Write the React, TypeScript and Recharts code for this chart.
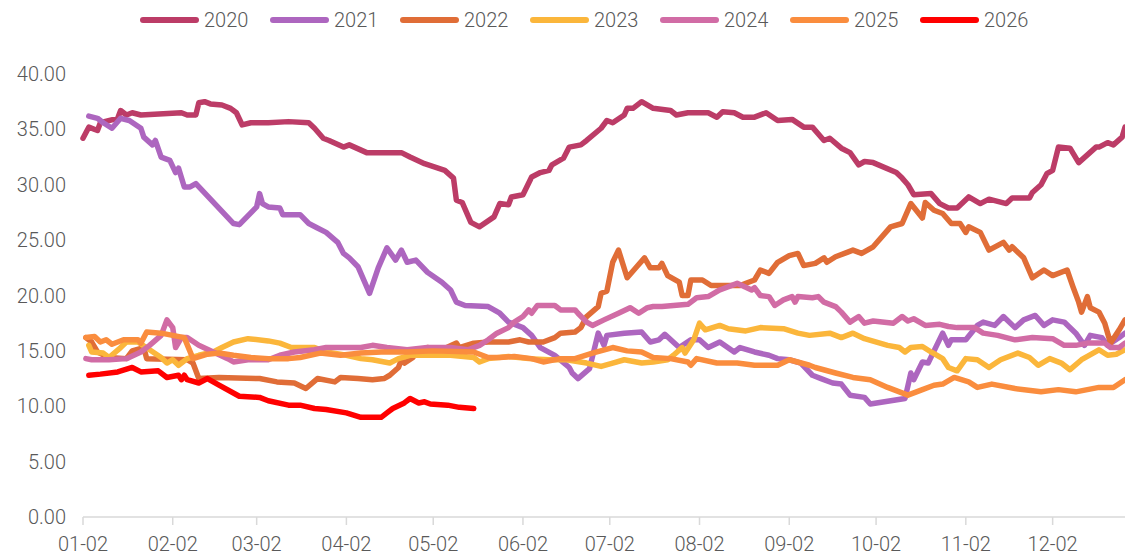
import { LineChart, Line, XAxis, YAxis } from 'recharts';

// x values are days counted from Jan 2 (leap-year calendar, as the axis labels imply)
const tickDays = [0, 31, 60, 91, 121, 152, 182, 213, 244, 274, 305, 335];
const tickLabels = ['01-02', '02-02', '03-02', '04-02', '05-02', '06-02', '07-02', '08-02', '09-02', '10-02', '11-02', '12-02'];
const yTicks = [0, 5, 10, 15, 20, 25, 30, 35, 40];

const days2020 = [0, 2, 5, 6, 12, 13, 15, 17, 20, 34, 36, 39, 40, 42, 44, 48, 51, 53, 55, 58, 64, 71, 78, 80, 83, 85, 90, 92, 98, 110, 113, 118, 125, 128, 129, 131, 134, 137, 142, 144, 147, 148, 152, 155, 158, 161, 162, 166, 168, 172, 174, 179, 181, 183, 187, 188, 190, 193, 197, 203, 205, 209, 216, 219, 221, 225, 228, 232, 236, 240, 245, 249, 252, 256, 258, 262, 265, 268, 270, 273, 281, 283, 285, 287, 293, 296, 299, 302, 306, 310, 313, 319, 321, 327, 328, 331, 333, 335, 337, 341, 344, 350, 351, 354, 356, 359, 360];
const vals2020 = [34.2, 35.2, 34.9, 35.6, 36.0, 36.7, 36.3, 36.5, 36.3, 36.5, 36.3, 36.3, 37.4, 37.5, 37.3, 37.2, 36.9, 36.5, 35.4, 35.6, 35.6, 35.7, 35.6, 35.1, 34.2, 34.0, 33.4, 33.6, 32.9, 32.9, 32.5, 31.9, 31.3, 30.6, 28.6, 28.4, 26.6, 26.2, 27.1, 28.3, 28.2, 28.9, 29.1, 30.7, 31.1, 31.3, 31.8, 32.4, 33.4, 33.6, 34.0, 35.1, 35.8, 35.6, 36.3, 36.9, 36.9, 37.5, 36.9, 36.7, 36.3, 36.5, 36.5, 36.1, 36.6, 36.5, 36.1, 36.1, 36.5, 35.8, 35.9, 35.2, 35.2, 34.0, 34.2, 33.3, 32.9, 31.8, 32.1, 32.0, 31.1, 30.6, 30.0, 29.1, 29.2, 28.3, 27.9, 27.9, 28.9, 28.3, 28.7, 28.3, 28.8, 28.8, 29.3, 30.0, 31.0, 31.3, 33.4, 33.3, 32.0, 33.4, 33.4, 33.8, 33.6, 34.3, 35.2];

const days2021 = [2, 5, 7, 10, 13, 16, 20, 21, 24, 25, 27, 30, 32, 33, 35, 37, 39, 52, 54, 60, 61, 62, 64, 68, 69, 75, 78, 81, 84, 88, 90, 92, 95, 99, 102, 105, 108, 110, 112, 115, 119, 124, 127, 129, 132, 140, 144, 147, 152, 155, 158, 163, 168, 169, 171, 175, 178, 180, 181, 187, 193, 196, 199, 201, 206, 210, 213, 216, 220, 225, 227, 232, 237, 240, 244, 248, 252, 255, 259, 262, 265, 270, 272, 284, 286, 287, 290, 292, 297, 299, 300, 305, 309, 311, 315, 318, 322, 325, 329, 332, 335, 339, 343, 346, 348, 352, 354, 358, 360];
const vals2021 = [36.2, 36.0, 35.6, 35.1, 36.0, 35.8, 35.1, 34.3, 33.6, 34.0, 32.5, 32.2, 31.1, 31.5, 29.8, 29.8, 30.1, 26.5, 26.4, 28.0, 29.2, 28.3, 28.0, 27.9, 27.3, 27.3, 26.5, 26.1, 25.7, 24.8, 23.8, 23.4, 22.6, 20.2, 22.5, 24.3, 23.2, 24.1, 23.0, 23.2, 22.1, 21.2, 20.5, 19.4, 19.1, 19.0, 18.4, 17.6, 17.1, 16.4, 15.3, 14.6, 13.5, 13.0, 12.5, 13.4, 16.6, 15.5, 16.4, 16.6, 16.7, 15.8, 16.0, 16.5, 15.3, 16.0, 16.0, 15.3, 15.8, 14.9, 15.3, 14.9, 14.6, 14.3, 14.2, 13.9, 12.8, 12.5, 12.1, 12.0, 11.0, 10.8, 10.2, 10.7, 13.0, 12.4, 14.0, 13.9, 16.6, 15.5, 16.0, 16.0, 17.3, 17.6, 17.3, 18.1, 17.1, 17.8, 18.2, 17.3, 17.8, 17.6, 16.6, 15.5, 16.4, 16.2, 15.5, 16.2, 16.6];

const days2022 = [1, 3, 5, 9, 15, 17, 21, 22, 36, 38, 40, 47, 61, 67, 73, 77, 81, 87, 89, 95, 100, 104, 106, 109, 110, 111, 114, 115, 119, 124, 129, 130, 135, 140, 147, 151, 154, 159, 163, 165, 170, 172, 174, 178, 179, 181, 183, 185, 188, 191, 194, 196, 199, 200, 202, 206, 207, 209, 210, 214, 217, 227, 232, 234, 237, 240, 244, 247, 249, 253, 256, 257, 260, 264, 266, 269, 273, 279, 283, 286, 290, 291, 294, 297, 300, 303, 305, 306, 310, 313, 318, 320, 321, 325, 328, 332, 335, 340, 342, 344, 345, 347, 348, 351, 353, 355, 358, 360];
const vals2022 = [16.2, 15.8, 14.9, 14.4, 14.3, 15.0, 15.3, 14.3, 14.2, 13.9, 12.5, 12.6, 12.5, 12.2, 12.1, 11.6, 12.5, 12.2, 12.6, 12.5, 12.4, 12.5, 12.8, 13.5, 14.2, 13.9, 14.4, 14.9, 15.3, 15.1, 15.7, 15.3, 15.7, 15.8, 15.8, 16.0, 15.8, 15.8, 16.2, 16.6, 16.7, 17.1, 18.1, 19.0, 20.2, 20.4, 23.0, 24.1, 21.6, 22.5, 23.4, 22.5, 22.5, 22.9, 21.8, 21.2, 20.0, 20.0, 21.4, 21.4, 20.9, 20.9, 21.4, 22.3, 22.0, 23.0, 23.6, 23.8, 22.7, 22.9, 23.4, 23.0, 23.5, 23.9, 24.1, 23.8, 24.4, 26.2, 26.5, 28.3, 27.0, 28.4, 27.7, 27.4, 26.5, 26.5, 25.7, 26.2, 25.7, 24.1, 24.8, 24.1, 24.4, 23.4, 21.6, 22.3, 21.8, 22.3, 20.8, 19.4, 18.5, 19.9, 18.9, 18.5, 17.5, 15.7, 16.9, 17.8];

const days2023 = [2, 3, 7, 9, 13, 15, 19, 23, 27, 29, 31, 33, 36, 40, 45, 48, 52, 57, 64, 68, 72, 75, 80, 84, 91, 96, 100, 106, 109, 113, 127, 135, 137, 140, 147, 154, 161, 167, 174, 179, 183, 187, 193, 197, 202, 204, 207, 208, 211, 213, 215, 220, 223, 229, 234, 242, 247, 251, 258, 262, 266, 270, 278, 282, 284, 286, 290, 293, 297, 299, 302, 305, 309, 313, 317, 323, 327, 330, 334, 338, 341, 345, 347, 351, 354, 357, 360];
const vals2023 = [15.5, 14.9, 14.8, 14.4, 15.3, 15.8, 15.8, 15.1, 14.4, 13.9, 14.2, 13.7, 14.3, 14.6, 14.9, 15.3, 15.8, 16.1, 15.9, 15.7, 15.3, 15.3, 15.3, 14.9, 14.6, 14.3, 14.2, 13.9, 14.3, 14.6, 14.6, 14.4, 14.0, 14.3, 14.5, 14.3, 14.2, 14.2, 13.9, 13.6, 13.9, 14.2, 13.9, 14.0, 14.2, 14.6, 15.3, 14.8, 16.0, 17.5, 16.9, 17.3, 17.0, 16.8, 17.1, 17.0, 16.6, 16.4, 16.6, 16.2, 16.6, 16.1, 15.5, 15.3, 14.9, 15.3, 15.4, 14.9, 14.3, 13.5, 13.2, 14.3, 14.2, 13.5, 14.2, 14.8, 14.4, 13.7, 14.3, 13.9, 13.3, 14.2, 14.5, 15.1, 14.6, 14.7, 15.1];

const days2024 = [1, 3, 9, 15, 20, 23, 27, 29, 31, 32, 34, 36, 40, 45, 50, 52, 57, 64, 68, 73, 80, 84, 91, 96, 100, 105, 112, 119, 127, 133, 137, 140, 143, 147, 149, 152, 154, 155, 157, 163, 165, 170, 171, 174, 176, 180, 185, 189, 192, 195, 197, 200, 204, 209, 212, 216, 220, 226, 231, 232, 234, 237, 239, 242, 245, 246, 247, 252, 254, 256, 260, 262, 265, 268, 270, 273, 280, 283, 285, 287, 291, 296, 299, 302, 308, 311, 316, 322, 328, 335, 339, 343, 347, 353, 355, 358, 360];
const vals2024 = [14.3, 14.2, 14.2, 14.3, 14.9, 15.5, 16.4, 17.8, 17.1, 15.3, 16.2, 16.2, 15.5, 14.9, 14.3, 14.0, 14.2, 14.2, 14.6, 14.9, 15.1, 15.3, 15.3, 15.3, 15.5, 15.3, 15.1, 15.3, 15.3, 15.1, 15.5, 16.0, 16.6, 17.1, 17.6, 18.1, 18.7, 18.4, 19.1, 19.1, 18.7, 18.7, 18.4, 17.6, 17.3, 17.8, 18.4, 18.9, 18.4, 18.9, 19.0, 19.0, 19.1, 19.2, 19.8, 19.9, 20.5, 21.1, 20.5, 20.7, 20.0, 19.9, 19.1, 19.6, 19.9, 19.4, 19.9, 19.8, 19.9, 19.4, 19.0, 18.5, 17.6, 18.1, 17.5, 17.7, 17.5, 18.1, 17.7, 17.9, 17.3, 17.4, 17.2, 17.1, 17.1, 16.6, 16.4, 16.0, 16.2, 16.1, 15.5, 15.5, 15.7, 15.7, 15.3, 15.3, 15.7];

const days2025 = [1, 4, 6, 8, 10, 14, 19, 20, 22, 27, 35, 38, 43, 47, 52, 58, 64, 71, 75, 82, 89, 96, 103, 112, 121, 135, 140, 144, 149, 155, 159, 165, 170, 176, 183, 188, 193, 197, 203, 209, 210, 212, 219, 226, 232, 240, 244, 251, 253, 260, 266, 272, 278, 285, 290, 294, 297, 301, 306, 309, 314, 322, 331, 337, 343, 351, 356, 360];
const vals2025 = [16.2, 16.3, 15.8, 16.0, 15.6, 16.0, 16.0, 15.7, 16.7, 16.6, 16.2, 14.3, 14.7, 14.8, 14.6, 14.4, 14.3, 14.3, 14.4, 14.8, 14.6, 14.8, 14.9, 14.9, 15.0, 14.9, 14.4, 14.4, 14.5, 14.3, 14.0, 14.3, 14.3, 14.8, 15.3, 15.0, 14.9, 14.4, 14.3, 14.0, 13.7, 14.3, 13.9, 13.9, 13.7, 13.7, 14.2, 13.7, 13.5, 13.0, 12.6, 12.4, 11.7, 11.0, 11.5, 11.9, 12.0, 12.6, 12.2, 11.7, 12.0, 11.6, 11.3, 11.5, 11.3, 11.7, 11.7, 12.4];

const days2026 = [2, 6, 12, 17, 20, 26, 29, 33, 34, 35, 36, 40, 43, 47, 54, 61, 64, 71, 75, 80, 84, 91, 96, 103, 105, 107, 111, 113, 116, 118, 120, 126, 130, 135];
const vals2026 = [12.8, 12.9, 13.1, 13.5, 13.1, 13.2, 12.6, 12.8, 12.4, 12.8, 12.4, 12.1, 12.5, 11.9, 10.9, 10.8, 10.5, 10.1, 10.1, 9.8, 9.7, 9.4, 9.0, 9.0, 9.4, 9.8, 10.3, 10.7, 10.3, 10.4, 10.2, 10.1, 9.9, 9.8];

const series = [
  { name: '2020', color: '#BC3C67', days: days2020, vals: vals2020 },
  { name: '2021', color: '#AD66BF', days: days2021, vals: vals2021 },
  { name: '2022', color: '#E06D37', days: days2022, vals: vals2022 },
  { name: '2023', color: '#FBB63B', days: days2023, vals: vals2023 },
  { name: '2024', color: '#D16CA5', days: days2024, vals: vals2024 },
  { name: '2025', color: '#FA8D3E', days: days2025, vals: vals2025 },
  { name: '2026', color: '#FF0000', days: days2026, vals: vals2026 },
];

const FONT = 'Roboto, "Noto Sans", sans-serif';
const TEXT = '#595959';
const AXIS = '#D9D9D9';

function TopLegend() {
  return (
    <div
      style={{
        position: 'absolute',
        top: 0,
        left: 140,
        height: 40,
        display: 'flex',
        alignItems: 'center',
        fontFamily: FONT,
        fontWeight: 300,
        fontSize: 20,
        color: TEXT,
      }}
    >
      {series.map((s) => (
        <div key={s.name} style={{ width: 130, display: 'flex', alignItems: 'center' }}>
          <span
            style={{
              display: 'inline-block',
              width: 59,
              height: 6,
              borderRadius: 3,
              background: s.color,
              marginRight: 5,
            }}
          />
          <span>{s.name}</span>
        </div>
      ))}
    </div>
  );
}

export default function App() {
  const lines = series.map((s) => ({
    ...s,
    data: s.days.map((day, i) => ({ day, value: s.vals[i] })),
  }));

  return (
    <div style={{ position: 'relative', width: 1125, height: 557, background: '#fff' }}>
      <style>{'body{margin:0}'}</style>
      <LineChart width={1125} height={557} margin={{ top: 74, right: 0, bottom: 0, left: 13 }}>
        <XAxis
          type="number"
          dataKey="day"
          domain={[0, 360]}
          ticks={tickDays}
          tickFormatter={(v) => tickLabels[tickDays.indexOf(v)]}
          height={40}
          stroke={AXIS}
          strokeWidth={1.5}
          tickSize={8}
          tickMargin={12}
          tick={{ fill: TEXT, fontSize: 20, fontFamily: FONT, fontWeight: 300 }}
        />
        <YAxis
          type="number"
          domain={[0, 40]}
          ticks={yTicks}
          width={70}
          axisLine={false}
          tickLine={false}
          tickMargin={11}
          tickFormatter={(v) => Number(v).toFixed(2)}
          tick={{ fill: TEXT, fontSize: 20, fontFamily: FONT, fontWeight: 300 }}
        />
        {lines.map((s) => (
          <Line
            key={s.name}
            data={s.data}
            dataKey="value"
            name={s.name}
            type="linear"
            stroke={s.color}
            strokeWidth={5.5}
            strokeLinejoin="round"
            strokeLinecap="round"
            dot={false}
            activeDot={false}
            isAnimationActive={false}
          />
        ))}
      </LineChart>
      <TopLegend />
    </div>
  );
}
